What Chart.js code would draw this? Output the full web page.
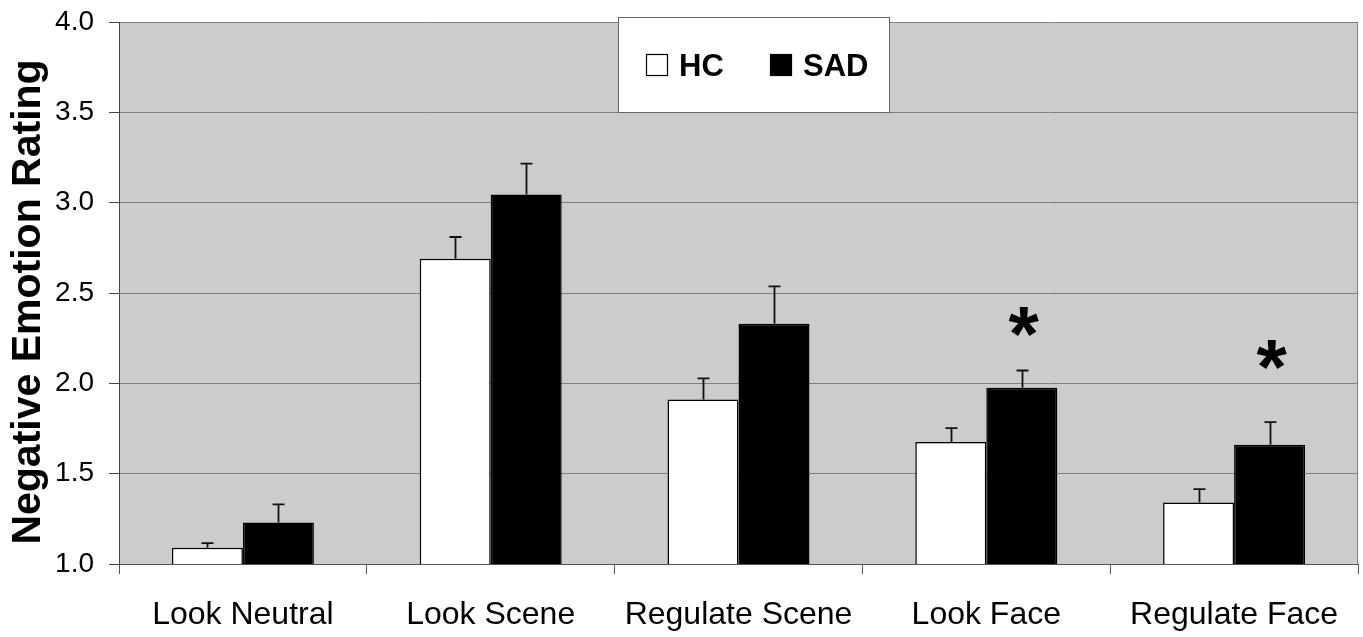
<!DOCTYPE html>
<html>
<head>
<meta charset="utf-8">
<script src="https://cdn.jsdelivr.net/npm/chart.js@4/dist/chart.umd.min.js"></script>
<style>
    body{margin:0;background:#fff;}
    canvas{display:block;}
</style>
</head>
<body>
<canvas id="myChart" width="1363" height="637"></canvas>
<script>
// datos
const categories=['Look Neutral','Look Scene','Regulate Scene','Look Face','Regulate Face'];
const hcValues=[1.09,2.69,1.91,1.675,1.34];
const sadValues=[1.23,3.045,2.33,1.975,1.66];
const hcErrTop=[1.115,2.81,2.027,1.752,1.414];
const sadErrTop=[1.33,3.216,2.537,2.071,1.785];
const starAt=[null,null,null,2.34,2.155];
const yTicks=[1.0,1.5,2.0,2.5,3.0,3.5,4.0];

const FONT='"Liberation Sans", Arial, sans-serif';
Chart.defaults.font.family=FONT;
Chart.defaults.color='#000';

// fondo gris del area
const bgPlugin={
    id:'bgPlugin',
    beforeDraw(chart){
        const {ctx,chartArea:a}=chart;
        ctx.save();
        ctx.fillStyle='#cccccc';
        ctx.fillRect(a.left,a.top,a.right-a.left,a.bottom-a.top);
        ctx.restore();
    },
    afterDraw(chart){
        const {ctx,chartArea:a}=chart;
        ctx.save();
        ctx.strokeStyle='#808080';
        ctx.lineWidth=1;
        ctx.beginPath();
        ctx.moveTo(a.right-0.5,a.top);
        ctx.lineTo(a.right-0.5,a.bottom);
        ctx.stroke();
        // titulo del eje y, un poco mas abajo que el centro
        ctx.fillStyle='#000';
        ctx.font='bold 41px '+FONT;
        ctx.textAlign='center';
        ctx.textBaseline='middle';
        ctx.translate(29,(a.top+a.bottom)/2+9);
        ctx.rotate(-Math.PI/2);
        ctx.fillText(chart.options.scales.y.title.text,0,0);
        ctx.restore();
    }
};

// barras de error y asteriscos
const errPlugin={
    id:'errPlugin',
    afterDatasetsDraw(chart){
        const ctx=chart.ctx;
        const y=chart.scales.y;
        const tops=[hcErrTop,sadErrTop];
        ctx.save();
        ctx.strokeStyle='#111';
        ctx.lineWidth=1.8;
        [0,1].forEach(d=>{
            const meta=chart.getDatasetMeta(d);
            meta.data.forEach((bar,i)=>{
                const x=Math.round(bar.x)+0.5;
                const yt=y.getPixelForValue(tops[d][i]);
                ctx.beginPath();
                ctx.moveTo(x,bar.y);
                ctx.lineTo(x,yt);
                ctx.moveTo(x-6,yt);
                ctx.lineTo(x+6,yt);
                ctx.stroke();
            });
        });
        // asteriscos
        ctx.fillStyle='#000';
        ctx.font='bold 78px '+FONT;
        ctx.textAlign='center';
        ctx.textBaseline='alphabetic';
        const m=ctx.measureText('*');
        const meta=chart.getDatasetMeta(1);
        starAt.forEach((v,i)=>{
            if(v===null) return;
            const cy=y.getPixelForValue(v);
            const base=cy+(m.actualBoundingBoxAscent-m.actualBoundingBoxDescent)/2;
            ctx.fillText('*',meta.data[i].x+2,base);
        });
        ctx.restore();
    }
};

// leyenda en caja blanca
const legendPlugin={
    id:'legendPlugin',
    afterDraw(chart){
        const ctx=chart.ctx;
        ctx.save();
        ctx.fillStyle='#fff';
        ctx.fillRect(618,17,272,95);
        ctx.strokeStyle='#666';
        ctx.lineWidth=1;
        ctx.strokeRect(618.5,17.5,271,95);
        const items=[
            {text:chart.data.datasets[0].label,fill:'#fff',x:646},
            {text:chart.data.datasets[1].label,fill:'#000',x:770}
        ];
        ctx.font='bold 31px '+FONT;
        ctx.textBaseline='alphabetic';
        ctx.textAlign='left';
        items.forEach(it=>{
            ctx.fillStyle=it.fill;
            ctx.fillRect(it.x,54,22,22);
            ctx.strokeStyle='#000';
            ctx.lineWidth=1.2;
            ctx.strokeRect(it.x+0.5,54.5,21,21);
            ctx.fillStyle='#000';
            ctx.fillText(it.text,it.x+33,76);
        });
        ctx.restore();
    }
};

const data={
    labels:categories,
    datasets:[
    {
        label:'HC',
        data:hcValues,
        backgroundColor:'#ffffff',
        borderColor:'#000',
        borderWidth:1.5,
        borderSkipped:false
    },
    {
        label:'SAD',
        data:sadValues,
        backgroundColor:'#000000',
        borderColor:'#000',
        borderWidth:1.5,
        borderSkipped:false
    }]
};

const config={
    type:'bar',
    data:data,
    options:{
        responsive:false,
        animation:false,
        datasets:{
            bar:{barPercentage:1,categoryPercentage:0.573}
        },
        layout:{padding:{top:22,right:5,left:0,bottom:0}},
        plugins:{
            legend:{display:false},
            tooltip:{enabled:false}
        },
        scales:{
            x:{
                offset:true,
                grid:{display:true,offset:true,drawOnChartArea:false,drawTicks:true,tickLength:10,color:'#555'},
                border:{display:true,color:'#555',width:1},
                ticks:{font:{size:32},color:'#000',padding:22,maxRotation:0,autoSkip:false},
                afterFit:(s)=>{s.height=73;s.paddingLeft=0;s.paddingRight=0;}
            },
            y:{
                min:1,
                max:4,
                afterBuildTicks:(s)=>{s.ticks=yTicks.map(v=>({value:v}));},
                ticks:{font:{size:28},color:'#000',padding:15,callback:(v)=>Number(v).toFixed(1)},
                grid:{color:'#808080',tickColor:'#444',tickLength:10,lineWidth:1},
                border:{display:true,color:'#444',width:1},
                // el titulo se dibuja en bgPlugin
                title:{display:false,text:'Negative Emotion Rating'},
                afterFit:(s)=>{s.width=119;s.paddingTop=0;s.paddingBottom=0;}
            }
        }
    },
    plugins:[bgPlugin,errPlugin,legendPlugin]
};

const chart=new Chart(document.getElementById('myChart'),config);
</script>
</body>
</html>
